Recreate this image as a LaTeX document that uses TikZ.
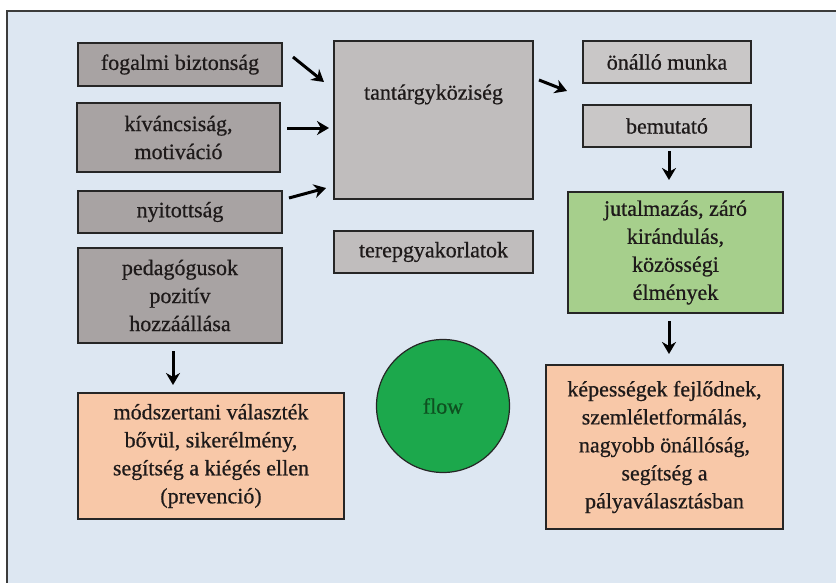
\documentclass[tikz,border=0pt]{standalone}
\usepackage{fontspec}
\setmainfont{Liberation Serif}
\newfontfamily\boxfont[FakeBold=0.6]{Liberation Serif}
\usetikzlibrary{arrows.meta}
\definecolor{bgblue}{HTML}{DDE7F2}
\definecolor{framec}{HTML}{3C3C3C}
\definecolor{darkgray}{HTML}{A8A3A3}
\definecolor{midgray}{HTML}{C0BDBD}
\definecolor{lightgray}{HTML}{C9C7C7}
\definecolor{greenbox}{HTML}{A6CF8C}
\definecolor{orangebox}{HTML}{F8C8A8}
\definecolor{circgreen}{HTML}{1CA84C}
\definecolor{circtext}{HTML}{0E5020}
\definecolor{txt}{HTML}{1E1A1A}
\tikzset{
  box/.style={draw=black!85, line width=1.2pt, rectangle, align=center, inner sep=0pt,
    text=txt, font=\boxfont\fontsize{22}{28}\selectfont},
  arr/.style={line width=3pt, -{Stealth[length=12pt,width=14pt]}, black}
}
\begin{document}
\begin{tikzpicture}[x=1pt,y=-1pt]
\useasboundingbox (0,0) rectangle (836,582);
\begin{scope}
\clip (0,0) rectangle (836,582);
\fill[white] (0,0) rectangle (836,582);
\fill[bgblue] (7,11) rectangle (850,600);
\draw[framec, line width=1.6pt] (7,600) -- (7,11) -- (850,11);
\end{scope}

\node[box, fill=darkgray, minimum width=204pt, minimum height=43pt] (fog) at (180,64.5) {fogalmi biztonság};
\node[box, fill=darkgray, minimum width=203pt, minimum height=69pt] (kiv) at (178.5,137.5) {kíváncsiság,\\motiváció};
\node[box, fill=darkgray, minimum width=204pt, minimum height=42pt] (nyi) at (180,212) {nyitottság};
\node[box, fill=darkgray, minimum width=204pt, minimum height=95pt] (ped) at (180,295.5) {pedagógusok\\pozitív\\hozzáállása};
\node[box, fill=midgray, minimum width=199pt, minimum height=158pt] (tan) at (433.5,120) {tantárgyköziség\\[28pt]};
\node[box, fill=midgray, minimum width=199pt, minimum height=42pt] (ter) at (433.5,252) {terepgyakorlatok};
\node[box, fill=lightgray, minimum width=168pt, minimum height=42pt] (ona) at (667,62) {önálló munka};
\node[box, fill=lightgray, minimum width=168pt, minimum height=42pt] (bem) at (667,126) {bemutató};
\node[box, fill=greenbox, minimum width=215pt, minimum height=121pt] (jut) at (675.5,252.5) {jutalmazás, záró\\kirándulás,\\közösségi\\élmények};
\node[box, fill=orangebox, minimum width=237pt, minimum height=164pt] (kep) at (664.5,447) {képességek fejlődnek,\\szemléletformálás,\\nagyobb önállóság,\\segítség a\\pályaválasztásban};
\node[box, fill=orangebox, minimum width=266pt, minimum height=126pt] (mod) at (211,456) {módszertani választék\\bővül, sikerélmény,\\segítség a kiégés ellen\\(prevenció)};
\node[circle, draw=black!85, line width=1.2pt, fill=circgreen, minimum size=133pt, inner sep=0pt,
  text=circtext, font=\boxfont\fontsize{22}{28}\selectfont] (flow) at (443,406) {flow};

\coordinate (a1s) at (293,57);  \coordinate (a1e) at (324,82);
\coordinate (a2s) at (287,128); \coordinate (a2e) at (329,128);
\coordinate (a3s) at (289,198); \coordinate (a3e) at (326,188);
\coordinate (a4s) at (539,80);  \coordinate (a4e) at (567,91);
\coordinate (a5s) at (669,151); \coordinate (a5e) at (669,180);
\coordinate (a6s) at (669,321); \coordinate (a6e) at (669,354);
\coordinate (a7s) at (173,351); \coordinate (a7e) at (173,385);
\draw[arr] (a1s) -- (a1e);
\draw[arr] (a2s) -- (a2e);
\draw[arr] (a3s) -- (a3e);
\draw[arr] (a4s) -- (a4e);
\draw[arr] (a5s) -- (a5e);
\draw[arr] (a6s) -- (a6e);
\draw[arr] (a7s) -- (a7e);
\end{tikzpicture}
\end{document}
